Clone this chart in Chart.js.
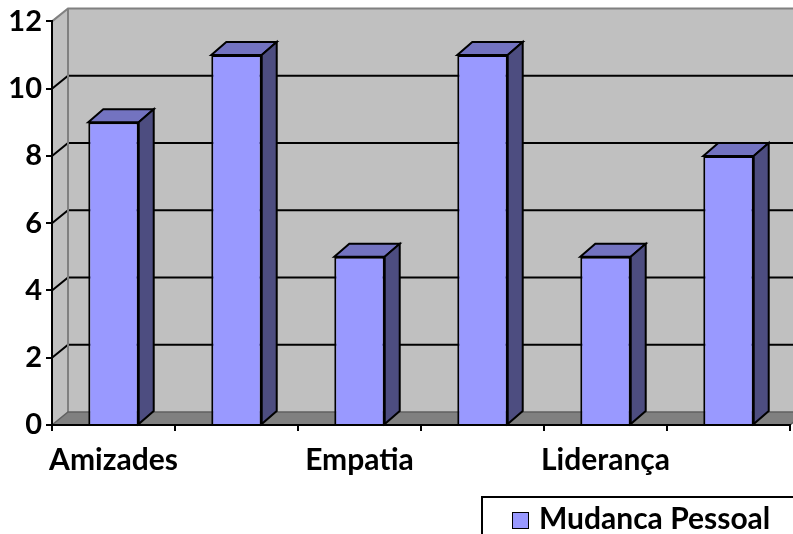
<!DOCTYPE html>
<html>
<head>
  <title>Mudanca Pessoal</title>
  <script src="https://cdn.jsdelivr.net/npm/chart.js"></script>
  <style>
    body { margin: 0; background: #fff; }
    #wrap { position: relative; width: 793px; height: 534px; }
  </style>
</head>
<body>
  <div id="wrap"><canvas id="chart"></canvas></div>
  <script>
    // data (only every other category name is printed)
    var categories = ['Amizades', '', 'Empatia', '', 'Liderança', ''];
    var values = [9, 11, 5, 11, 5, 8];
    var seriesName = 'Mudanca Pessoal';
    var yTicks = [0, 2, 4, 6, 8, 10, 12];

    var FONT = 'Lato';
    var WALL_DX = 16, WALL_DY = 13;
    var BAR_DX = 15, BAR_DY = 13;

    function poly(ctx, pts) {
      ctx.beginPath();
      ctx.moveTo(pts[0][0], pts[0][1]);
      for (var i = 1; i < pts.length; i++) ctx.lineTo(pts[i][0], pts[i][1]);
      ctx.closePath();
    }

    // walls + floor behind the axes
    var wallPlugin = {
      id: 'wall3d',
      beforeDraw: function (chart) {
        var ctx = chart.ctx, a = chart.chartArea, ys = chart.scales.y;
        var L = a.left, R = a.right, T = a.top, B = a.bottom;
        ctx.save();
        ctx.fillStyle = '#c0c0c0';
        ctx.fillRect(L + WALL_DX, T - WALL_DY, chart.width, B - T);
        poly(ctx, [[L, T], [L + WALL_DX, T - WALL_DY], [L + WALL_DX, B - WALL_DY], [L, B]]);
        ctx.fill();
        // floor
        ctx.fillStyle = '#808080';
        poly(ctx, [[L, B], [L + WALL_DX, B - WALL_DY], [R + WALL_DX, B - WALL_DY], [R, B]]);
        ctx.fill();
        // gridlines on back and side wall
        ctx.strokeStyle = '#000';
        ctx.lineWidth = 2;
        yTicks.forEach(function (v) {
          if (v === yTicks[0] || v === yTicks[yTicks.length - 1]) return;
          var p = ys.getPixelForValue(v);
          ctx.beginPath();
          ctx.moveTo(L, p);
          ctx.lineTo(L + WALL_DX, p - WALL_DY);
          ctx.lineTo(chart.width, p - WALL_DY);
          ctx.stroke();
        });
        // wall edges
        ctx.strokeStyle = '#808080';
        ctx.beginPath();
        ctx.moveTo(L, T);
        ctx.lineTo(L + WALL_DX, T - WALL_DY);
        ctx.lineTo(chart.width, T - WALL_DY);
        ctx.moveTo(L + WALL_DX, T - WALL_DY);
        ctx.lineTo(L + WALL_DX, B - WALL_DY);
        ctx.stroke();
        ctx.strokeStyle = '#606060';
        ctx.lineWidth = 1.5;
        ctx.beginPath();
        ctx.moveTo(L, B);
        ctx.lineTo(L + WALL_DX, B - WALL_DY);
        ctx.lineTo(R + WALL_DX, B - WALL_DY);
        ctx.lineTo(R, B);
        ctx.stroke();
        ctx.restore();
      }
    };

    // top and side faces of each bar
    var barPlugin = {
      id: 'bar3d',
      afterDatasetsDraw: function (chart) {
        var ctx = chart.ctx;
        ctx.save();
        ctx.strokeStyle = '#000';
        ctx.lineWidth = 2;
        ctx.lineJoin = 'miter';
        chart.getDatasetMeta(0).data.forEach(function (el) {
          var l = el.x - el.width / 2, r = el.x + el.width / 2, t = el.y, b = el.base;
          ctx.fillStyle = '#7373c0';
          poly(ctx, [[l, t], [l + BAR_DX, t - BAR_DY], [r + BAR_DX, t - BAR_DY], [r, t]]);
          ctx.fill(); ctx.stroke();
          ctx.fillStyle = '#4d4d80';
          poly(ctx, [[r, t], [r + BAR_DX, t - BAR_DY], [r + BAR_DX, b - BAR_DY], [r, b]]);
          ctx.fill(); ctx.stroke();
        });
        ctx.restore();
      },
      afterDraw: function (chart) {
        // boxed legend at the bottom right
        var ctx = chart.ctx;
        ctx.save();
        ctx.strokeStyle = '#000';
        ctx.lineWidth = 2;
        ctx.strokeRect(482, 497, 330, 60);
        ctx.fillStyle = '#9999ff';
        ctx.fillRect(512, 512, 16, 16);
        ctx.lineWidth = 1;
        ctx.strokeRect(512.5, 512.5, 16, 16);
        ctx.fillStyle = '#000';
        ctx.font = 'bold 30px ' + FONT;
        ctx.textBaseline = 'alphabetic';
        ctx.fillText(chart.data.datasets[0].label, 539, 529);
        ctx.restore();
      }
    };

    var ctx = document.getElementById('chart').getContext('2d');
    var chart = new Chart(ctx, {
      type: 'bar',
      data: {
        labels: categories,
        datasets: [{
          label: seriesName,
          data: values,
          backgroundColor: '#9999ff',
          borderColor: '#000',
          borderWidth: 2,
          categoryPercentage: 1,
          barPercentage: 0.41
        }]
      },
      plugins: [wallPlugin, barPlugin],
      options: {
        responsive: true,
        maintainAspectRatio: false,
        animation: false,
        layout: { padding: { top: 21, right: 3, left: 0, bottom: 0 } },
        plugins: {
          legend: { display: false },
          tooltip: { enabled: false }
        },
        scales: {
          x: {
            ticks: {
              color: '#000',
              font: { family: FONT, weight: 'bold', size: 30 },
              padding: 11,
              maxRotation: 0,
              autoSkip: false
            },
            grid: { drawOnChartArea: false, color: '#000', tickLength: 6, lineWidth: 2, offset: true },
            border: { color: '#000', width: 2 },
            afterFit: function (s) { s.height = 109; }
          },
          y: {
            min: 0,
            max: 12,
            ticks: {
              stepSize: 2,
              color: '#000',
              font: { family: FONT, weight: 'bold', size: 29 },
              padding: 4
            },
            grid: { drawOnChartArea: false, color: '#000', tickLength: 6, lineWidth: 2 },
            border: { color: '#000', width: 2 },
            afterFit: function (s) { s.width = 52; }
          }
        }
      }
    });
  </script>
</body>
</html>
